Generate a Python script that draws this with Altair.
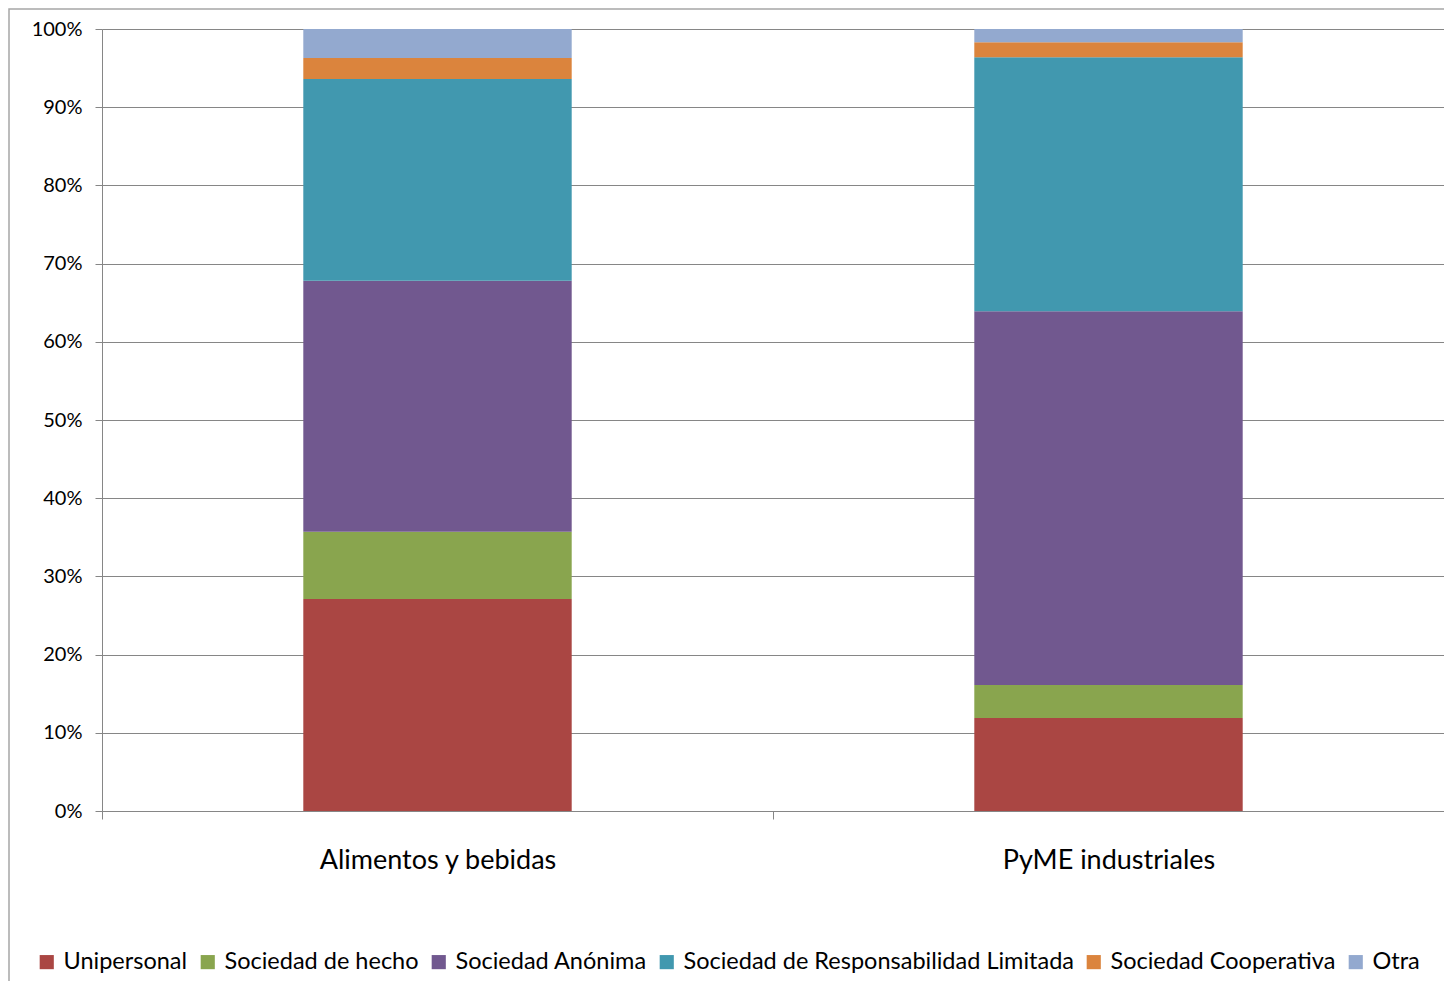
import altair as alt
import pandas as pd

categories = ["Alimentos y bebidas", "PyME industriales"]
series = ["Unipersonal", "Sociedad de hecho", "Sociedad Anónima",
          "Sociedad de Responsabilidad Limitada", "Sociedad Cooperativa", "Otra"]
alimentos = [27.1, 8.6, 32.1, 25.8, 2.7, 3.7]
pyme = [11.9, 4.2, 47.8, 32.5, 1.9, 1.7]
colors = ["#AA4643", "#89A54E", "#71588F", "#4198AF", "#DB843D", "#93A9CF"]

rows = []
for i, s in enumerate(series):
    rows.append({"cat": categories[0], "serie": s, "idx": i, "val": alimentos[i]})
    rows.append({"cat": categories[1], "serie": s, "idx": i, "val": pyme[i]})
df = pd.DataFrame(rows)

FONT = "Lato"

bars = alt.Chart(df).mark_bar(width=alt.RelativeBandSize(0.4)).encode(
    x=alt.X("cat:N", sort=categories, title=None,
            scale=alt.Scale(paddingInner=0, paddingOuter=0),
            axis=alt.Axis(labelAngle=0, labelFontSize=27, labelPadding=28,
                          labelColor="#000000", domainColor="#868686",
                          tickColor="#868686", tickSize=8, tickBand="extent",
                          labelLimit=600, grid=False, labelFont=FONT)),
    y=alt.Y("val:Q", stack="normalize", title=None,
            scale=alt.Scale(domain=[0, 1]),
            axis=alt.Axis(format=".0%", values=[i / 10 for i in range(11)],
                          labelFontSize=20, labelColor="#000000", labelPadding=13,
                          domainColor="#868686", tickColor="#868686", tickSize=7,
                          gridColor="#868686", gridWidth=1, labelFont=FONT)),
    color=alt.Color("serie:N", sort=series,
                    scale=alt.Scale(domain=series, range=colors),
                    legend=alt.Legend(title=None, orient="none", direction="horizontal",
                                      legendX=-67, legendY=921,
                                      symbolType="square", symbolSize=200,
                                      symbolStrokeWidth=0,
                                      labelFontSize=23.5, labelFont=FONT,
                                      labelColor="#000000", columnPadding=8,
                                      labelOffset=5, labelLimit=600)),
    order=alt.Order("idx:Q", sort="ascending"),
)

frame = alt.Chart(pd.DataFrame({"a": [0]})).mark_rect(
    fill=None, stroke="#A6A6A6", strokeWidth=1.5
).encode(
    x=alt.value(-93), x2=alt.value(1400), y=alt.value(-20), y2=alt.value(1000)
)

chart = alt.layer(frame, bars).properties(
    width=1342, height=782,
    autosize=alt.AutoSizeParams(type="none"),
    padding={"left": 94, "top": 21, "right": 0, "bottom": 170},
).configure_view(stroke=None).configure(font=FONT)

chart.save("out.html", embed_options={"renderer": "svg", "actions": False})
